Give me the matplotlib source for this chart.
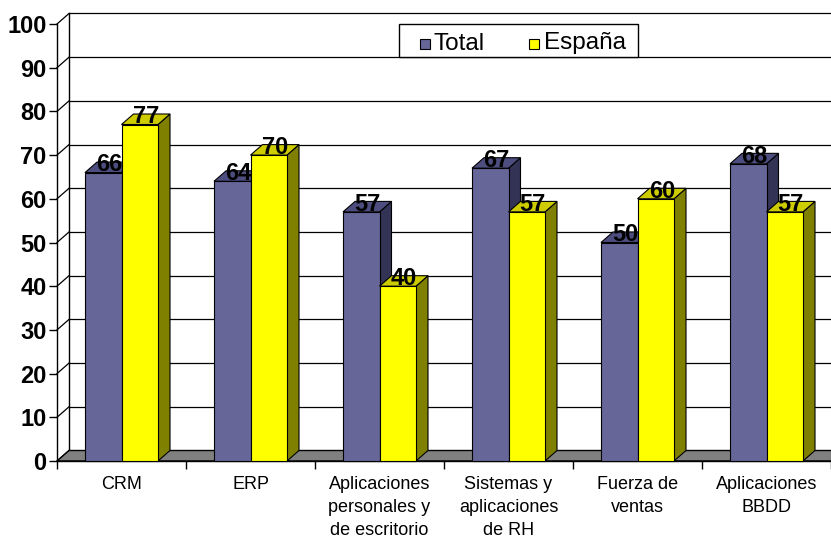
import matplotlib
matplotlib.use("Agg")
import matplotlib.pyplot as plt
from matplotlib.patches import Polygon, Rectangle

plt.rcParams['font.family'] = ['Liberation Sans', 'DejaVu Sans']

categories = ["CRM", "ERP", "Aplicaciones\npersonales y\nde escritorio",
              "Sistemas y\naplicaciones\nde RH", "Fuerza de\nventas", "Aplicaciones\nBBDD"]
total = [66, 64, 57, 67, 50, 68]
espana = [77, 70, 40, 57, 60, 57]
series_names = ["Total", "España"]
yticks = list(range(0, 101, 10))

W, H = 831, 540
fig = plt.figure(figsize=(W / 100, H / 100), dpi=100)
ax = fig.add_axes([57 / W, 79 / H, 1 - 57 / W, 437 / H])
n = len(categories)
ax.set_xlim(0, n)
ax.set_ylim(0, 100)
for s in ax.spines.values():
    s.set_visible(False)

px_x = (W - 57) / n      # pixels per x unit
px_y = 437 / 100         # pixels per y unit
dx = 12 / px_x
dy = 10.5 / px_y

# floor
ax.add_patch(Polygon([(0, 0), (n, 0), (n + dx, dy), (dx, dy)], closed=True,
                     facecolor="#808080", edgecolor="black", lw=1, clip_on=False, zorder=1))
# back wall gridlines + left wall diagonals
for v in yticks:
    if v > 0:
        ax.plot([dx, n + dx], [v + dy, v + dy], color="black", lw=0.9, clip_on=False, zorder=0.5)
    ax.plot([0, dx], [v, v + dy], color="black", lw=0.9, clip_on=False, zorder=0.5)
ax.plot([dx, dx], [dy, 100 + dy], color="black", lw=1, clip_on=False, zorder=0.5)
ax.plot([0, 0], [0, 100], color="black", lw=1, clip_on=False, zorder=0.5)
ax.plot([0, n], [0, 0], color="black", lw=1, clip_on=False, zorder=1.2)

bw = 36.5 / px_x
colors = [("#666699", "#4d4d80", "#333355"), ("#ffff00", "#cccc00", "#808000")]

def bar3d(x0, v, cols, z):
    x1 = x0 + bw
    front, top, side = cols
    ax.add_patch(Polygon([(x1, 0), (x1 + dx, dy), (x1 + dx, v + dy), (x1, v)], closed=True,
                         facecolor=side, edgecolor="black", lw=0.8, clip_on=False, zorder=z))
    ax.add_patch(Polygon([(x0, v), (x1, v), (x1 + dx, v + dy), (x0 + dx, v + dy)], closed=True,
                         facecolor=top, edgecolor="black", lw=0.8, clip_on=False, zorder=z))
    ax.add_patch(Rectangle((x0, 0), bw, v, facecolor=front, edgecolor="black", lw=0.8,
                           clip_on=False, zorder=z))
    ax.text(x0 + bw / 2 + dx / 2, v + 0.25, f"{v}", ha="center", va="baseline",
            fontsize=17, fontweight="bold", zorder=10)

for i in range(n):
    c = i + 0.5
    bar3d(c - bw, total[i], colors[0], 2 + i * 0.1)
    bar3d(c, espana[i], colors[1], 2.05 + i * 0.1)

ax.set_yticks(yticks)
ax.set_yticklabels([str(v) for v in yticks], fontsize=17, fontweight="bold")
ax.tick_params(axis="y", length=6, width=1, pad=1.5)
ax.set_xticks(range(n + 1))
ax.set_xticklabels([""] * (n + 1))
ax.tick_params(axis="x", which="major", length=6, width=1)
ax.set_xticks([i + 0.5 for i in range(n)], minor=True)
ax.set_xticklabels(categories, minor=True, fontsize=13, linespacing=1.45)
ax.tick_params(axis="x", which="minor", length=0, pad=11)

# legend (pixel layout, top-left origin)
def fx(px):
    return px / W

def fy(py):
    return 1 - py / H

fig.patches.append(Rectangle((fx(399), fy(57)), fx(638) - fx(399), fy(24) - fy(57),
                             transform=fig.transFigure, facecolor="white",
                             edgecolor="black", lw=1, zorder=20))
for k, (sx, tx) in enumerate([(420, 434), (529, 544)]):
    fig.patches.append(Rectangle((fx(sx), fy(49)), fx(10), 10 / H,
                                 transform=fig.transFigure, facecolor=colors[k][0],
                                 edgecolor="black", lw=0.8, zorder=21))
    fig.text(fx(tx), fy(49.5), series_names[k], fontsize=17.5, ha="left",
             va="baseline", zorder=22)

fig.savefig("out.png", dpi=100)
